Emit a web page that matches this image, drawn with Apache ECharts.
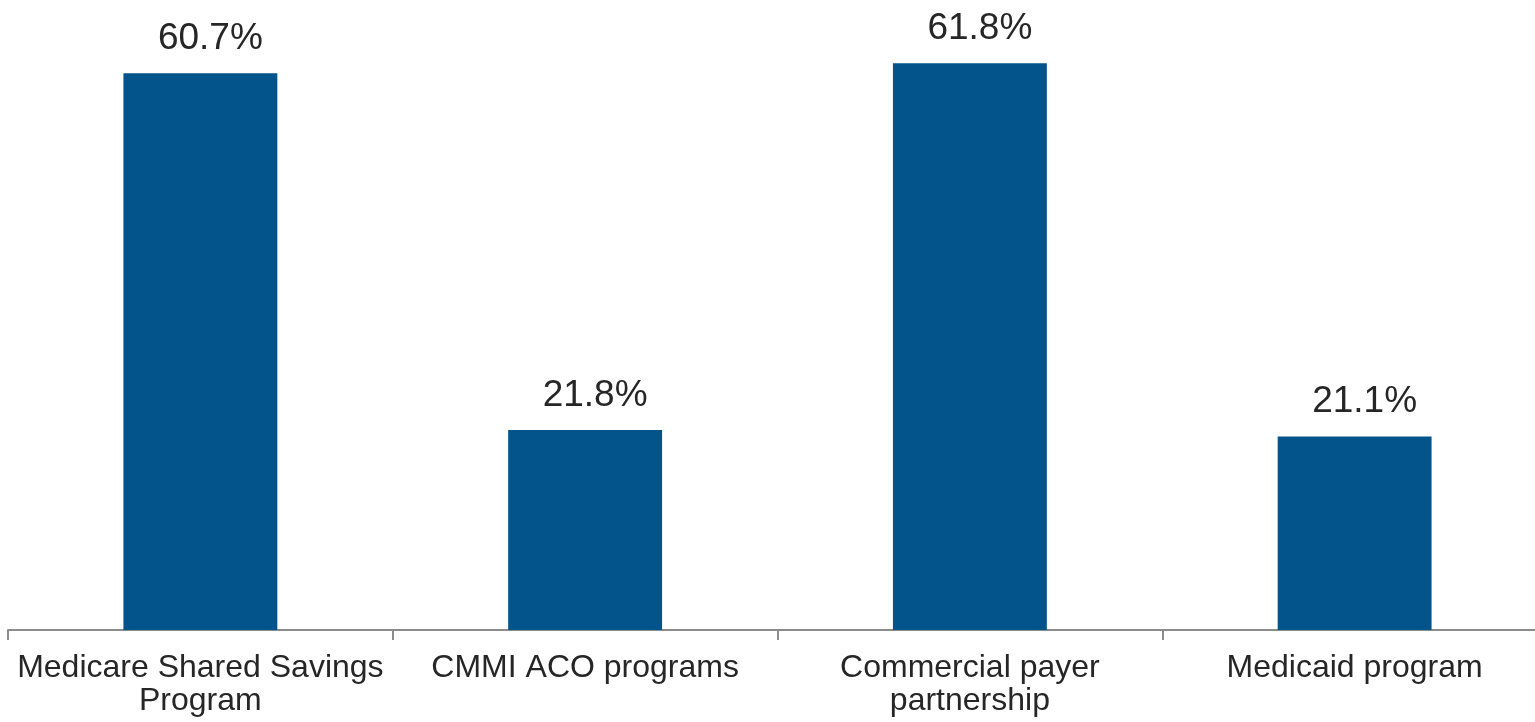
<!DOCTYPE html>
<html>
<head>
<meta charset="utf-8">
<script src="https://cdn.jsdelivr.net/npm/echarts@6/dist/echarts.min.js"></script>
<style>
  html, body { margin: 0; padding: 0; background: #fff; }
  #chart { width: 1535px; height: 722px; }
</style>
</head>
<body>
<div id="chart"></div>
<script>
// Program categories (line breaks as shown under the axis)
const categories = [
  'Medicare Shared Savings\nProgram',
  'CMMI ACO programs',
  'Commercial payer\npartnership',
  'Medicaid program'
];
// Share of respondents participating, percent
const values = [60.7, 21.8, 61.8, 21.1];

const chart = echarts.init(document.getElementById('chart'));
chart.setOption({
  animation: false,
  // plot runs slightly past the right edge, so the last tick is clipped
  grid: { left: 8, width: 1539, top: 0, bottom: 92, outerBoundsMode: 'none' },
  xAxis: {
    type: 'category',
    data: categories,
    axisLine: { lineStyle: { color: '#8c8c8c', width: 2 } },
    axisTick: { show: true, length: 10, lineStyle: { color: '#8c8c8c', width: 2 } },
    axisLabel: {
      color: '#262626',
      fontFamily: 'Liberation Sans, Arial, sans-serif',
      fontSize: 32,
      lineHeight: 33,
      margin: 22,
      interval: 0
    }
  },
  yAxis: {
    type: 'value',
    min: 0,
    max: 68.7,
    show: false,
    splitLine: { show: false }
  },
  series: [{
    type: 'bar',
    data: values,
    barWidth: '40%',
    itemStyle: { color: '#03548a' },
    label: {
      show: true,
      position: 'top',
      distance: 16,
      offset: [10, 0],
      color: '#262626',
      fontFamily: 'Liberation Sans, Arial, sans-serif',
      fontSize: 37,
      formatter: p => p.value.toFixed(1) + '%'
    }
  }]
});
</script>
</body>
</html>
